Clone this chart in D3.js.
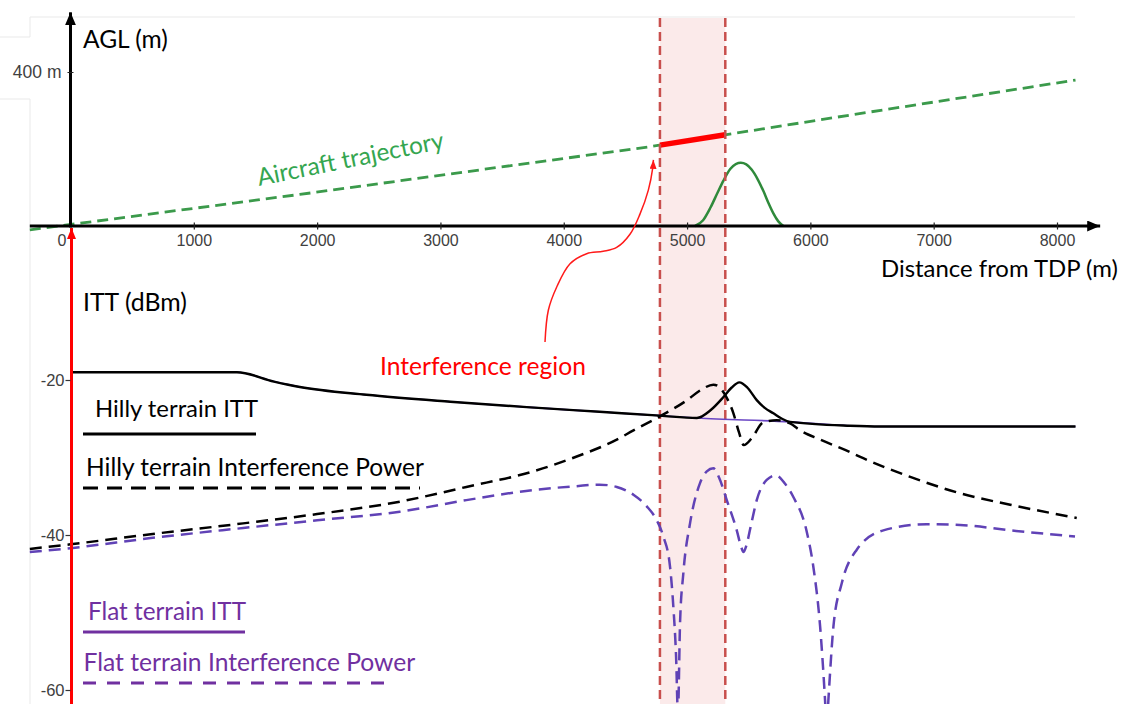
<!DOCTYPE html>
<html><head><meta charset="utf-8">
<script src="https://cdn.jsdelivr.net/npm/d3@7"></script>
<style>
html,body{margin:0;padding:0;background:#fff;}
svg{display:block;}
</style></head><body>
<svg id="chart" width="1125" height="704"></svg>
<script>
// ---------- data ----------
const xTicks = [0,1000,2000,3000,4000,5000,6000,7000,8000];
const aglTicks = [400];
const dbmTicks = [-20,-40,-60];
const interferenceRegion = [4780, 5310];
// aircraft trajectory (distance m, AGL m)
const trajectory = [[-330,-10],[1860,82],[4700,206],[6320,288],[8150,379]];
const trajectorySegment = [[4780,210],[5310,237]];
// terrain hill (distance m, AGL m)
const terrainHill = [[5065,0],[5130,15],[5190,48],[5245,85],[5295,118],[5350,148],[5395,161],[5436,164],[5480,160],[5525,146],[5575,120],[5620,90],[5660,60],[5700,33],[5740,12],[5781,0]];
// ITT (distance m, dBm)
const hillyITT = [[0,-19.0],[1350,-19.0],[1650,-20.2],[1860,-20.9],[2400,-21.9],[3080,-22.8],[3700,-23.5],[4290,-24.1],[4780,-24.6],[5080,-24.9],[5190,-23.9],[5295,-22.2],[5360,-21.0],[5424,-20.3],[5490,-21.0],[5565,-22.6],[5630,-23.6],[5700,-24.3],[5770,-25.0],[5835,-25.4],[6320,-25.9],[6565,-26.0],[8150,-26.0]];
const flatITT = [[0,-19.0],[1350,-19.0],[1650,-20.2],[1860,-20.9],[2400,-21.9],[3080,-22.8],[3700,-23.5],[4290,-24.1],[4780,-24.6],[5080,-24.9],[5835,-25.4],[6320,-25.9],[6565,-26.0],[8150,-26.0]];
// interference power (distance m, dBm)
const hillyPower = [[-330,-41.8],[0,-41.2],[650,-39.9],[1400,-38.5],[2000,-37.3],[2670,-35.7],[3210,-33.8],[3750,-31.8],[4100,-29.9],[4430,-27.7],[4565,-26.5],[4780,-24.7],[5000,-22.6],[5120,-21.2],[5213,-20.6],[5260,-20.9],[5300,-21.7],[5376,-24.3],[5420,-26.7],[5460,-28.4],[5525,-27.5],[5616,-25.5],[5727,-25.2],[5835,-25.6],[5916,-26.5],[6080,-27.7],[6320,-29.3],[6400,-29.9],[6810,-32.5],[7210,-34.6],[7620,-36.1],[8160,-37.8]];
const flatPower = [[-330,-42.2],[0,-41.7],[650,-40.4],[1400,-39.1],[2000,-38.1],[2670,-37.0],[3210,-35.5],[3750,-34.2],[4100,-33.7],[4290,-33.5],[4430,-33.8],[4565,-34.8],[4673,-36.3],[4754,-38.1],[4808,-40.2],[4862,-44.1],[4889,-49.3],[4911,-55.7],[4926,-63],[4943,-51.4],[4970,-44.9],[5024,-38.5],[5105,-33.3],[5160,-31.8],[5213,-31.4],[5260,-32.6],[5322,-35.5],[5403,-39.4],[5440,-41.6],[5457,-42.2],[5480,-41.4],[5520,-38.6],[5565,-35.5],[5646,-32.9],[5720,-32.3],[5790,-33.3],[5862,-35.1],[5971,-39.6],[6024,-44.1],[6079,-51.8],[6119,-61.3],[6132,-65],[6146,-61.3],[6187,-51.8],[6255,-46.2],[6376,-41.9],[6592,-39.4],[6944,-38.6],[7214,-38.7],[7619,-39.4],[8146,-40.2]];
// annotation arrow path (distance m, dBm-scale units)
const annotationArrow = [[3848,-15.1],[3875,-11.0],[3943,-8.0],[4051,-5.0],[4186,-3.7],[4320,-3.4],[4429,-2.9],[4537,-1.2],[4618,1.4],[4686,4.5],[4722,7.4],[4727,8.4]];

// ---------- scales ----------
const svg = d3.select('#chart');
const W = 1125, H = 704;
const x = d3.scaleLinear().domain([0,8000]).range([70.5,1057]);
const yA = d3.scaleLinear().domain([0,400]).range([226,72]);
const yD = d3.scaleLinear().domain([-20,-60]).range([380,690]);

const MAIN_FONT = "Lato, 'Open Sans', sans-serif";
const TICK_FONT = "'Liberation Sans', Arial, sans-serif";

// defs (arrowheads)
const defs = svg.append('defs');
function marker(id, color, len, wid){
  defs.append('marker').attr('id',id).attr('markerUnits','userSpaceOnUse')
    .attr('viewBox',`0 ${-wid/2} ${len} ${wid}`).attr('refX',len).attr('refY',0)
    .attr('markerWidth',len).attr('markerHeight',wid).attr('orient','auto')
    .append('path').attr('d',`M0,${-wid/2}L${len},0L0,${wid/2}Z`).attr('fill',color);
}
marker('arrBlack','#000',13,11);
marker('arrRed','#ff0000',11,9);
marker('arrRedThin','#ff1a1a',9,7);

// faint frame lines (screenshot border)
const faint = svg.append('g').attr('stroke','#e9e9e9').attr('stroke-width',1).attr('fill','none');
faint.append('path').attr('d','M30,99V704M0,99H30M0,37H30M30,37V17H1075');

// interference region
svg.append('rect')
  .attr('x', x(interferenceRegion[0])).attr('y',18)
  .attr('width', x(interferenceRegion[1]) - x(interferenceRegion[0]))
  .attr('height', H-18).attr('fill','#fbeaea');

// trajectory
const lineA = d3.line().x(d=>x(d[0])).y(d=>yA(d[1]));
svg.append('path').datum(trajectory).attr('d',lineA)
  .attr('fill','none').attr('stroke','#3b9a4b').attr('stroke-width',2.8).attr('stroke-dasharray','11,6');
svg.append('path').datum(trajectorySegment).attr('d',lineA)
  .attr('fill','none').attr('stroke','#ff0000').attr('stroke-width',5.5);
// hill
svg.append('path').datum(terrainHill).attr('d',lineA.curve(d3.curveMonotoneX))
  .attr('fill','none').attr('stroke','#2f8a3b').attr('stroke-width',2.5);

// interference region borders
svg.append('g').selectAll('line').data(interferenceRegion).join('line')
  .attr('x1',d=>x(d)).attr('x2',d=>x(d)).attr('y1',18).attr('y2',H)
  .attr('stroke','#c84f4d').attr('stroke-width',2.5).attr('stroke-dasharray','9,5');

// x axis line
svg.append('line').attr('x1',x(-330)).attr('x2',x(8350)).attr('y1',yA(0)).attr('y2',yA(0))
  .attr('stroke','#000').attr('stroke-width',3).attr('marker-end','url(#arrBlack)');
// AGL axis line
svg.append('line').attr('x1',x(0)).attr('x2',x(0)).attr('y1',yA(0)+1.5).attr('y2',yA(555))
  .attr('stroke','#000').attr('stroke-width',3).attr('marker-end','url(#arrBlack)');

// x axis ticks + labels
const gx = svg.append('g').attr('transform',`translate(0,${yA(0)})`)
  .call(d3.axisBottom(x).tickValues(xTicks).tickSize(4).tickPadding(5).tickFormat(d=>String(d)));
gx.select('.domain').remove();
gx.selectAll('.tick line').attr('y1',-3.5).attr('y2',3.5).attr('stroke','#222').attr('stroke-width',1.2)
  .filter(d=>d===0).remove();
gx.selectAll('.tick text').attr('font-family',TICK_FONT).attr('font-size',16).attr('fill','#404040')
  .filter(d=>d===0).attr('x',-9);

// AGL ticks
const gya = svg.append('g').attr('transform',`translate(${x(0)},0)`)
  .call(d3.axisLeft(yA).tickValues(aglTicks).tickSize(3).tickPadding(6).tickFormat(d=>d+' m'));
gya.select('.domain').remove();
gya.selectAll('.tick line').attr('x1',-3).attr('x2',3).attr('stroke','#222');
gya.selectAll('.tick text').attr('font-family',TICK_FONT).attr('font-size',17.5).attr('fill','#404040');

// curves
const lineD = d3.line().x(d=>x(d[0])).y(d=>yD(d[1])).curve(d3.curveMonotoneX);
svg.append('path').datum(flatITT).attr('d',lineD).attr('fill','none').attr('stroke','#6a46c4').attr('stroke-width',1.6);
svg.append('path').datum(hillyITT).attr('d',lineD).attr('fill','none').attr('stroke','#000').attr('stroke-width',2.4);
svg.append('path').datum(hillyPower).attr('d',lineD).attr('fill','none').attr('stroke','#000').attr('stroke-width',2.5).attr('stroke-dasharray','12,7');
svg.append('path').datum(flatPower).attr('d',lineD).attr('fill','none').attr('stroke','#6042b6').attr('stroke-width',2.5).attr('stroke-dasharray','12,7');

// red ITT axis (arrow)
svg.append('line').attr('x1',x(0)+1).attr('x2',x(0)+1).attr('y1',H+5).attr('y2',yA(0)+2)
  .attr('stroke','#ff0000').attr('stroke-width',3).attr('marker-end','url(#arrRed)');
const gyd = svg.append('g').attr('transform',`translate(${x(0)},0)`)
  .call(d3.axisLeft(yD).tickValues(dbmTicks).tickSize(5).tickPadding(1).tickFormat(d=>String(d)));
gyd.select('.domain').remove();
gyd.selectAll('.tick line').attr('stroke','#333').attr('stroke-width',1.2);
gyd.selectAll('.tick text').attr('font-family',TICK_FONT).attr('font-size',16.5).attr('fill','#404040');

// annotation arrow
svg.append('path').datum(annotationArrow).attr('d',lineD.curve(d3.curveCatmullRom))
  .attr('fill','none').attr('stroke','#ff1a1a').attr('stroke-width',1.5).attr('marker-end','url(#arrRedThin)');

// ---------- texts ----------
function fitText(t, w){
  t.attr('font-size',26);
  const len = t.node().getComputedTextLength();
  t.attr('font-size', 26*w/len);
}
const labels = [
  {text:'AGL (m)', x:83, y:48, w:85, color:'#000'},
  {text:'Distance from TDP (m)', x:881, y:277, w:237, color:'#000'},
  {text:'ITT (dBm)', x:83, y:311, w:104, color:'#000'},
  {text:'Interference region', x:380, y:375, w:206, color:'#ff0000'},
  {text:'Hilly terrain ITT', x:95, y:417, w:163, color:'#000'},
  {text:'Hilly terrain Interference Power', x:86, y:476, w:338, color:'#000'},
  {text:'Flat terrain ITT', x:88, y:620, w:158, color:'#7030a0'},
  {text:'Flat terrain Interference Power', x:83.5, y:671, w:332, color:'#7030a0'}
];
labels.forEach(l=>{
  const t = svg.append('text').attr('x',l.x).attr('y',l.y).attr('fill',l.color)
    .attr('font-family',MAIN_FONT).text(l.text);
  fitText(t, l.w);
});
const at = svg.append('text').attr('transform','translate(259,186) rotate(-11.5)')
  .attr('fill','#35a650').attr('font-family',MAIN_FONT).text('Aircraft trajectory');
fitText(at,190);

// legend lines
const legendLines = [
  {x1:83,x2:256,y:434,color:'#000',dash:null},
  {x1:83,x2:420,y:488,color:'#000',dash:'15,9'},
  {x1:83,x2:245,y:632,color:'#7030a0',dash:null},
  {x1:83,x2:393,y:683,color:'#7030a0',dash:'13,11'}
];
svg.append('g').selectAll('line').data(legendLines).join('line')
  .attr('x1',d=>d.x1).attr('x2',d=>d.x2).attr('y1',d=>d.y).attr('y2',d=>d.y)
  .attr('stroke',d=>d.color).attr('stroke-width',3).attr('stroke-dasharray',d=>d.dash);
</script>
</body></html>
